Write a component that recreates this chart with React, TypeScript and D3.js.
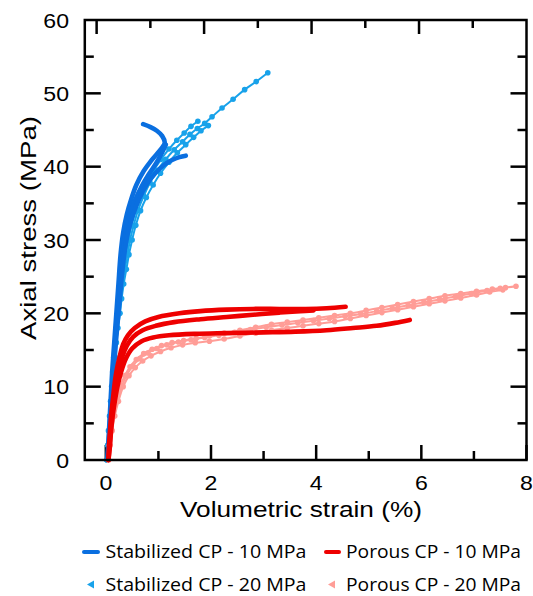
import React from "react";
import * as d3 from "d3";

type P = [number, number];

// Stabilized CP - 10 MPa (solid dark blue)
const stab10A: P[] = [[0.03,0],[0.06,4],[0.09,8],[0.12,12],[0.16,16],[0.2,20],[0.24,24],[0.28,28],[0.33,31],[0.4,33.5],[0.48,35.5],[0.58,37.5],[0.72,39.4],[0.86,40.8],[0.98,41.8],[1.08,42.7],[1.12,43.3],[1.07,44.2],[0.97,44.9],[0.85,45.4],[0.71,45.8]];
const stab10B: P[] = [[0.03,0],[0.07,4],[0.1,8],[0.14,12],[0.18,16],[0.22,20],[0.27,24],[0.32,28],[0.38,31],[0.46,33.5],[0.56,35.5],[0.68,37.3],[0.82,39],[0.96,40.5],[1.06,41.8],[1.14,43]];
const stab10C: P[] = [[0.04,0],[0.08,4],[0.11,8],[0.15,12],[0.19,16],[0.24,20],[0.29,24],[0.35,28],[0.42,31],[0.52,33.5],[0.64,35.7],[0.78,37.6],[0.94,39.1],[1.1,40.2],[1.26,40.9],[1.4,41.3],[1.52,41.5]];

// Stabilized CP - 20 MPa (light blue, markers)
const stab20A: P[] = [[0.02,0],[0.04,2],[0.06,4],[0.08,6],[0.1,8],[0.12,10],[0.14,12],[0.16,14],[0.19,16],[0.22,18],[0.25,20],[0.28,22],[0.32,24],[0.36,26],[0.41,28],[0.46,30],[0.53,32],[0.61,34],[0.72,36],[0.84,37.8],[0.98,39.5],[1.14,41],[1.3,42.3],[1.46,43.4],[1.6,44.4],[1.74,45.2],[1.88,45.9],[2.02,46.8],[2.21,48.0],[2.42,49.2],[2.64,50.5],[2.86,51.6],[3.08,52.8]];
const stab20B: P[] = [[0.02,0],[0.035,2],[0.05,4],[0.07,6],[0.09,8],[0.11,10],[0.13,12],[0.15,14],[0.17,16],[0.2,18],[0.23,20],[0.26,22],[0.29,24],[0.33,26],[0.38,28],[0.43,30],[0.49,32],[0.57,34],[0.67,36],[0.78,37.8],[0.91,39.5],[1.05,41],[1.2,42.4],[1.35,43.6],[1.49,44.6],[1.62,45.5],[1.75,46.2]];
const stab20C: P[] = [[0.03,0],[0.05,2],[0.07,4],[0.09,6],[0.11,8],[0.13,10],[0.15,12],[0.18,14],[0.2,16],[0.23,18],[0.27,20],[0.3,22],[0.34,24],[0.39,26],[0.44,28],[0.5,30],[0.57,32],[0.66,34],[0.77,35.8],[0.9,37.5],[1.04,39.1],[1.2,40.6],[1.36,41.9],[1.52,43.0],[1.67,44.0],[1.81,44.9],[1.95,45.6]];

// Porous CP - 10 MPa (solid red)
const por10A: P[] = [[0.05,0],[0.06,2],[0.08,4],[0.1,6],[0.13,8],[0.16,10],[0.2,12],[0.26,14],[0.33,15.8],[0.42,17],[0.55,18],[0.75,18.9],[1.0,19.5],[1.4,20.0],[1.8,20.3],[2.3,20.5],[2.8,20.6],[3.3,20.6],[3.8,20.6],[4.2,20.7],[4.56,20.9]];
const por10B: P[] = [[0.05,0],[0.07,2],[0.09,4],[0.12,6],[0.15,8],[0.19,10],[0.24,12],[0.31,14],[0.4,15.6],[0.52,16.8],[0.7,17.7],[0.95,18.3],[1.3,18.8],[1.8,19.2],[2.3,19.5],[2.8,19.8],[3.3,20.1],[3.7,20.3],[3.95,20.4]];
const por10C: P[] = [[0.05,0],[0.08,2],[0.1,4],[0.13,6],[0.17,8],[0.22,10],[0.29,12],[0.38,13.8],[0.5,15.2],[0.68,16.2],[0.9,16.7],[1.2,17.0],[1.7,17.2],[2.3,17.3],[3.0,17.4],[3.6,17.5],[4.2,17.7],[4.7,18.0],[5.15,18.3],[5.5,18.7],[5.78,19.1]];

// Porous CP - 20 MPa (pink, markers)
const por20A: P[] = [[0.05,0],[0.07,2],[0.1,4],[0.14,6],[0.2,8],[0.27,10],[0.36,11.5],[0.46,12.7],[0.58,13.7],[0.72,14.5],[0.88,15.1],[1.06,15.6],[1.26,16.0],[1.48,16.3],[1.72,16.6],[1.97,16.9],[2.25,17.3],[2.55,17.7],[2.85,18.1],[3.15,18.5],[3.45,18.8],[3.75,19.1],[4.05,19.4],[4.35,19.7],[4.65,20.0],[4.95,20.4],[5.25,20.8],[5.55,21.2],[5.85,21.6],[6.15,22.0],[6.45,22.4],[6.75,22.7],[7.05,23.0],[7.35,23.3],[7.6,23.5],[7.8,23.7]];
const por20B: P[] = [[0.05,0],[0.08,2],[0.12,4],[0.17,6],[0.24,8],[0.33,10],[0.44,11.5],[0.56,12.6],[0.7,13.5],[0.86,14.2],[1.04,14.8],[1.24,15.3],[1.46,15.7],[1.7,16.0],[1.97,16.2],[2.25,16.5],[2.55,16.9],[2.85,17.3],[3.15,17.7],[3.45,18.0],[3.75,18.3],[4.05,18.6],[4.35,18.9],[4.65,19.3],[4.95,19.7],[5.25,20.1],[5.55,20.5],[5.85,20.9],[6.15,21.3],[6.45,21.7],[6.75,22.1],[7.05,22.5],[7.3,22.9],[7.55,23.2]];
const por20C: P[] = [[0.05,0],[0.07,2],[0.11,4],[0.16,6],[0.22,8],[0.3,10],[0.4,11.6],[0.51,12.8],[0.64,13.8],[0.8,14.6],[0.97,15.2],[1.16,15.7],[1.38,16.1],[1.62,16.4],[1.88,16.7],[2.15,17.0],[2.45,17.4],[2.75,17.8],[3.05,18.1],[3.35,18.4],[3.65,18.7],[3.95,19.0],[4.25,19.3],[4.55,19.6],[4.85,19.9],[5.15,20.3],[5.45,20.7],[5.75,21.1],[6.05,21.5],[6.35,21.9],[6.65,22.3],[6.95,22.7],[7.25,23.1],[7.5,23.4]];

const xTicks = [0, 1, 2, 3, 4, 5, 6, 7, 8];
const xTickLabels = ["0", "2", "4", "6", "8"];
const yTicks = [5, 10, 15, 20, 25, 30, 35, 40, 45, 50, 55];
const yTickLabels = ["0", "10", "20", "30", "40", "50", "60"];
const topTicks = [0, 1, 2, 3, 4, 5, 6, 7];
const legendNames = ["Stabilized CP - 10 MPa", "Porous CP - 10 MPa", "Stabilized CP - 20 MPa", "Porous CP - 20 MPa"];

const C_DBLUE = "#0a6fe0";
const C_LBLUE = "#18a2ea";
const C_RED = "#ee0000";
const C_PINK = "#ff9d97";

const L = 84.8, R = 526.5, T = 20, B = 460;

export default function App() {
  const x = d3.scaleLinear().domain([-0.4, 8]).range([L, R]);
  const xTop = d3.scaleLinear().domain([-0.22, 8]).range([L, R]);
  const y = d3.scaleLinear().domain([0, 60]).range([B, T]);
  const line = d3.line<P>().x(d => x(d[0])).y(d => y(d[1])).curve(d3.curveCatmullRom.alpha(0.5));
  const axisFont = "'Liberation Sans', Arial, sans-serif";
  const legFont = "'Open Sans', 'Noto Sans', sans-serif";

  const thick = (data: P[], color: string, k: string) => (
    <path key={k} d={line(data) || ""} fill="none" stroke={color} strokeWidth={4.6} strokeLinecap="round" strokeLinejoin="round" />
  );
  const dotted = (data: P[], color: string, k: string) => (
    <g key={k}>
      <path d={line(data) || ""} fill="none" stroke={color} strokeWidth={2} />
      {data.map((d, i) => (
        <circle key={i} cx={x(d[0])} cy={y(d[1])} r={2.8} fill={color} />
      ))}
    </g>
  );

  return (
    <svg width={533} height={596} style={{ position: "absolute", left: 0, top: 0, background: "#fff" }}>
      {/* ticks */}
      <g stroke="#000" strokeWidth={2.5}>
        {xTicks.map(t => (
          <line key={"bx" + t} x1={x(t)} x2={x(t)} y1={B} y2={B - (t % 2 === 0 ? 15 : 9)} />
        ))}
        {topTicks.map(t => (
          <line key={"tx" + t} x1={xTop(t)} x2={xTop(t)} y1={T} y2={T + (t % 2 === 0 ? 14 : 8)} />
        ))}
        {yTicks.map(t => (
          <line key={"ly" + t} x1={L} x2={L + (t % 10 === 0 ? 16 : 9)} y1={y(t)} y2={y(t)} />
        ))}
        {yTicks.map(t => (
          <line key={"ry" + t} x1={R} x2={R - (t % 10 === 0 ? 16 : 9)} y1={y(t)} y2={y(t)} />
        ))}
      </g>
      {/* curves */}
      {[stab20A, stab20B, stab20C].map((d, i) => dotted(d, C_LBLUE, "s20" + i))}
      {[stab10A, stab10B, stab10C].map((d, i) => thick(d, C_DBLUE, "s10" + i))}
      {[por20A, por20B, por20C].map((d, i) => dotted(d, C_PINK, "p20" + i))}
      {[por10A, por10B, por10C].map((d, i) => thick(d, C_RED, "p10" + i))}
      {/* frame */}
      <rect x={L} y={T} width={R - L} height={B - T} fill="none" stroke="#000" strokeWidth={2.5} />
      {/* tick labels */}
      <g fontFamily={axisFont} fontSize={21} fill="#000">
        {xTickLabels.map(s => (
          <text key={"xl" + s} transform={`translate(${x(+s)},490) scale(1.1,1)`} textAnchor="middle">{s}</text>
        ))}
        {yTickLabels.map(s => (
          <text key={"yl" + s} transform={`translate(69,${y(+s)}) scale(1.1,1)`} dy="0.36em" textAnchor="end">{s}</text>
        ))}
        <text x={301} y={517} textAnchor="middle" fontSize={22} textLength={242} lengthAdjust="spacingAndGlyphs">Volumetric strain (%)</text>
        <text transform="translate(36,228) rotate(-90)" textAnchor="middle" fontSize={22.5} textLength={224} lengthAdjust="spacingAndGlyphs">Axial stress (MPa)</text>
      </g>
      {/* legend */}
      <g fontFamily={legFont} fontSize={18.5} fill="#000">
        <line x1={84} x2={98} y1={552} y2={552} stroke={C_DBLUE} strokeWidth={4} strokeLinecap="round" />
        <text x={105.5} y={552} dy="0.35em" textLength={201} lengthAdjust="spacingAndGlyphs">{legendNames[0]}</text>
        <line x1={326} x2={339} y1={552} y2={552} stroke={C_RED} strokeWidth={4} strokeLinecap="round" />
        <text x={346} y={552} dy="0.35em" textLength={175} lengthAdjust="spacingAndGlyphs">{legendNames[1]}</text>
        <path d={`M87,584.5 L94,580.5 L94,588.5 Z`} fill={C_LBLUE} />
        <text x={105.5} y={584.5} dy="0.35em" textLength={201} lengthAdjust="spacingAndGlyphs">{legendNames[2]}</text>
        <path d={`M328,584.5 L335,580.5 L335,588.5 Z`} fill={C_PINK} />
        <text x={346} y={584.5} dy="0.35em" textLength={175} lengthAdjust="spacingAndGlyphs">{legendNames[3]}</text>
      </g>
    </svg>
  );
}
